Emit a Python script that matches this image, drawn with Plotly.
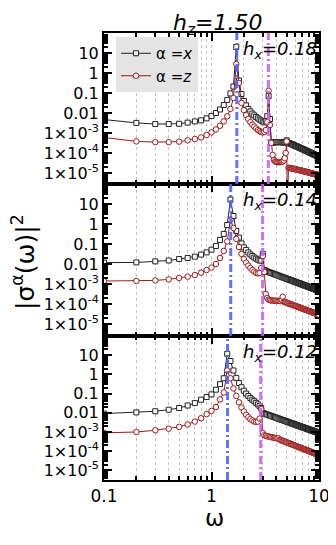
import plotly.graph_objects as go
from plotly.subplots import make_subplots

omega = [0.1, 0.2, 0.3, 0.4, 0.5, 0.6, 0.7, 0.8, 0.9, 1.0,
         1.1, 1.2, 1.3, 1.4, 1.5, 1.6, 1.7, 1.8, 1.9, 2.0,
         2.1, 2.2, 2.3, 2.4, 2.5, 2.6, 2.7, 2.8, 2.9, 3.0,
         3.1, 3.2, 3.3, 3.4, 3.5, 3.6, 3.7, 3.8, 3.9, 4.0,
         4.1, 4.2, 4.3, 4.4, 4.5, 4.6, 4.7, 4.8, 4.9, 5.0,
         5.1, 5.2, 5.3, 5.4, 5.5, 5.6, 5.7, 5.8, 5.9, 6.0,
         6.1, 6.2, 6.3, 6.4, 6.5, 6.6, 6.7, 6.8, 6.9, 7.0,
         7.1, 7.2, 7.3, 7.4, 7.5, 7.6, 7.7, 7.8, 7.9, 8.0,
         8.1, 8.2, 8.3, 8.4, 8.5, 8.6, 8.7, 8.8, 8.9, 9.0,
         9.1, 9.2, 9.3, 9.4, 9.5, 9.6, 9.7, 9.8, 9.9, 10.0]

# h_x = 0.18
sx_018 = [4.7e-3, 3.2e-3, 2.8e-3, 2.8e-3, 2.9e-3, 3.3e-3, 3.8e-3, 4.3e-3, 5.4e-3, 7.1e-3,
          1.0e-2, 1.5e-2, 2.5e-2, 4.5e-2, 9.5e-2, 0.21, 20, 0.42, 0.089, 0.04,
          0.024, 0.016, 0.012, 9.3e-3, 7.6e-3, 6.3e-3, 5.4e-3, 4.7e-3, 4.2e-3, 3.7e-3,
          3.4e-3, 3.8e-3, 7e-3, 0.07, 5e-3, 3.2e-4, 3.3e-4, 3.4e-4, 3.4e-4, 3.5e-4,
          3.5e-4, 3.5e-4, 3.5e-4, 3.5e-4, 3.4e-4, 3.4e-4, 3.4e-4, 3.4e-4, 3.5e-4, 4.3e-4,
          3.3e-4, 3.2e-4, 3.1e-4, 2.95e-4, 2.85e-4, 2.75e-4, 2.6e-4, 2.5e-4, 2.4e-4, 2.3e-4,
          2.22e-4, 2.14e-4, 2.06e-4, 1.98e-4, 1.9e-4, 1.84e-4, 1.77e-4, 1.71e-4, 1.65e-4, 1.59e-4,
          1.54e-4, 1.49e-4, 1.44e-4, 1.39e-4, 1.34e-4, 1.3e-4, 1.26e-4, 1.22e-4, 1.18e-4, 1.14e-4,
          1.11e-4, 1.07e-4, 1.04e-4, 1.01e-4, 9.8e-5, 9.5e-5, 9.2e-5, 9.0e-5, 8.7e-5, 8.5e-5,
          8.2e-5, 8.0e-5, 7.8e-5, 7.6e-5, 7.4e-5, 7.2e-5, 7.0e-5, 6.8e-5, 6.7e-5, 6.5e-5]
sz_018 = [6.0e-4, 3.8e-4, 3.5e-4, 3.5e-4, 3.7e-4, 4.3e-4, 5.0e-4, 6.0e-4, 7.9e-4, 1.07e-3,
          1.5e-3, 2.3e-3, 3.8e-3, 6.8e-3, 0.016, 0.056, 2.8, 0.32, 0.032, 0.014,
          7.9e-3, 5.0e-3, 3.5e-3, 2.6e-3, 2.1e-3, 1.7e-3, 1.4e-3, 1.26e-3, 1.12e-3, 1.07e-3,
          1.12e-3, 1.4e-3, 3.5e-3, 0.13, 2.5e-3, 3.2e-4, 8e-5, 4.5e-5, 3.8e-5, 3.6e-5,
          3.5e-5, 3.5e-5, 3.5e-5, 3.5e-5, 3.6e-5, 3.8e-5, 4.2e-5, 5.5e-5, 1.0e-4, 3.8e-4,
          1e-7, 1.8e-5, 1.8e-5, 1.75e-5, 1.72e-5, 1.68e-5, 1.65e-5, 1.62e-5, 1.58e-5, 1.55e-5,
          1.52e-5, 1.49e-5, 1.46e-5, 1.43e-5, 1.4e-5, 1.37e-5, 1.35e-5, 1.32e-5, 1.3e-5, 1.27e-5,
          1.25e-5, 1.22e-5, 1.2e-5, 1.18e-5, 1.16e-5, 1.14e-5, 1.12e-5, 1.1e-5, 1.08e-5, 1.06e-5,
          1.04e-5, 1.02e-5, 1.0e-5, 9.9e-6, 9.7e-6, 9.5e-6, 9.4e-6, 9.2e-6, 9.1e-6, 8.9e-6,
          8.8e-6, 8.6e-6, 8.5e-6, 8.4e-6, 8.2e-6, 8.1e-6, 8.0e-6, 7.9e-6, 7.8e-6, 7.6e-6]

# h_x = 0.14
sx_014 = [0.0117, 0.012, 0.0135, 0.015, 0.0178, 0.02, 0.0234, 0.0295, 0.038, 0.052,
          0.079, 0.16, 0.32, 0.89, 16.6, 2.5, 0.45, 0.21, 0.107, 0.068,
          0.05, 0.038, 0.03, 0.025, 0.021, 0.0186, 0.0166, 0.015, 0.0148, 0.032,
          5.0e-3, 4.7e-3, 4.2e-3, 4.0e-3, 3.75e-3, 3.55e-3, 3.36e-3, 3.19e-3, 3.02e-3, 2.88e-3,
          2.74e-3, 2.61e-3, 2.49e-3, 2.38e-3, 2.27e-3, 2.17e-3, 2.08e-3, 2.0e-3, 1.92e-3, 1.84e-3,
          1.77e-3, 1.70e-3, 1.64e-3, 1.58e-3, 1.52e-3, 1.47e-3, 1.42e-3, 1.37e-3, 1.32e-3, 1.28e-3,
          1.24e-3, 1.2e-3, 1.16e-3, 1.12e-3, 1.09e-3, 1.06e-3, 1.03e-3, 9.9e-4, 9.7e-4, 9.4e-4,
          9.1e-4, 8.9e-4, 8.6e-4, 8.4e-4, 8.2e-4, 8.0e-4, 7.8e-4, 7.6e-4, 7.4e-4, 7.2e-4,
          7.0e-4, 6.8e-4, 6.7e-4, 6.5e-4, 6.4e-4, 6.2e-4, 6.1e-4, 5.9e-4, 5.8e-4, 5.7e-4,
          5.6e-4, 5.4e-4, 5.3e-4, 5.2e-4, 5.1e-4, 5.0e-4, 4.9e-4, 4.8e-4, 4.7e-4, 4.6e-4]
sz_014 = [1.41e-3, 1.41e-3, 1.51e-3, 1.7e-3, 2.0e-3, 2.34e-3, 2.8e-3, 3.7e-3, 5.0e-3, 6.6e-3,
          0.01, 0.02, 0.045, 0.135, 1.6, 0.63, 0.18, 0.071, 0.032, 0.018,
          0.0117, 8.3e-3, 6.3e-3, 5.0e-3, 4.2e-3, 3.6e-3, 3.4e-3, 3.5e-3, 6.3e-3, 0.025,
          4.0e-3, 3.2e-4, 2.0e-4, 1.66e-4, 1.55e-4, 1.5e-4, 1.48e-4, 1.46e-4, 1.45e-4, 1.44e-4,
          1.43e-4, 1.42e-4, 1.41e-4, 1.4e-4, 1.6e-4, 2.3e-4, 1.31e-4, 1.26e-4, 1.21e-4, 1.16e-4,
          1.11e-4, 1.07e-4, 1.03e-4, 9.9e-5, 9.6e-5, 9.3e-5, 8.9e-5, 8.6e-5, 8.3e-5, 8.1e-5,
          7.8e-5, 7.5e-5, 7.3e-5, 7.1e-5, 6.9e-5, 6.7e-5, 6.5e-5, 6.3e-5, 6.1e-5, 5.9e-5,
          5.7e-5, 5.6e-5, 5.5e-5, 5.3e-5, 5.2e-5, 5.0e-5, 4.9e-5, 4.8e-5, 4.6e-5, 4.5e-5,
          4.4e-5, 4.3e-5, 4.2e-5, 4.1e-5, 4.0e-5, 3.9e-5, 3.8e-5, 3.7e-5, 3.66e-5, 3.58e-5,
          3.5e-5, 3.42e-5, 3.35e-5, 3.28e-5, 3.21e-5, 3.15e-5, 3.08e-5, 3.02e-5, 2.96e-5, 2.9e-5]

# h_x = 0.12
sx_012 = [9.1e-3, 0.0105, 0.012, 0.0145, 0.0178, 0.024, 0.032, 0.048, 0.066, 0.091,
          0.16, 0.31, 0.63, 11.7, 5.0, 1.6, 0.66, 0.355, 0.214, 0.141,
          0.1, 0.076, 0.059, 0.048, 0.04, 0.033, 0.0275, 0.0224, 0.0178, 9.8e-3,
          9.2e-3, 8.6e-3, 8.1e-3, 7.6e-3, 7.2e-3, 6.8e-3, 6.4e-3, 6.1e-3, 5.8e-3, 5.5e-3,
          5.2e-3, 5.0e-3, 4.8e-3, 4.5e-3, 4.3e-3, 4.2e-3, 4.0e-3, 3.8e-3, 3.7e-3, 3.5e-3,
          3.4e-3, 3.3e-3, 3.1e-3, 3.0e-3, 2.9e-3, 2.8e-3, 2.7e-3, 2.6e-3, 2.5e-3, 2.45e-3,
          2.37e-3, 2.29e-3, 2.22e-3, 2.15e-3, 2.09e-3, 2.02e-3, 1.96e-3, 1.9e-3, 1.85e-3, 1.8e-3,
          1.74e-3, 1.7e-3, 1.65e-3, 1.61e-3, 1.57e-3, 1.52e-3, 1.49e-3, 1.44e-3, 1.41e-3, 1.38e-3,
          1.34e-3, 1.31e-3, 1.28e-3, 1.25e-3, 1.22e-3, 1.19e-3, 1.16e-3, 1.14e-3, 1.11e-3, 1.09e-3,
          1.06e-3, 1.04e-3, 1.02e-3, 1.0e-3, 9.8e-4, 9.5e-4, 9.4e-4, 9.2e-4, 9.0e-4, 8.8e-4]
sz_012 = [9.1e-4, 1.0e-3, 1.23e-3, 1.48e-3, 1.86e-3, 2.45e-3, 3.5e-3, 5.2e-3, 8.5e-3, 0.0126,
          0.02, 0.05, 0.115, 1.6, 0.63, 0.186, 0.076, 0.035, 0.019, 0.0117,
          7.9e-3, 5.9e-3, 4.7e-3, 4.0e-3, 3.5e-3, 3.4e-3, 3.5e-3, 5.0e-3, 0.0155, 8.9e-4,
          6.8e-4, 6.3e-4, 6.0e-4, 5.8e-4, 5.6e-4, 5.4e-4, 5.2e-4, 5.0e-4, 4.9e-4, 4.8e-4,
          4.6e-4, 4.7e-4, 4.0e-4, 3.84e-4, 3.65e-4, 3.48e-4, 3.32e-4, 3.17e-4, 3.02e-4, 2.9e-4,
          2.77e-4, 2.66e-4, 2.55e-4, 2.44e-4, 2.35e-4, 2.26e-4, 2.17e-4, 2.09e-4, 2.01e-4, 1.94e-4,
          1.87e-4, 1.8e-4, 1.74e-4, 1.68e-4, 1.63e-4, 1.57e-4, 1.52e-4, 1.47e-4, 1.43e-4, 1.38e-4,
          1.34e-4, 1.30e-4, 1.26e-4, 1.22e-4, 1.19e-4, 1.15e-4, 1.12e-4, 1.09e-4, 1.06e-4, 1.03e-4,
          1.0e-4, 9.7e-5, 9.5e-5, 9.2e-5, 9.0e-5, 8.8e-5, 8.6e-5, 8.3e-5, 8.1e-5, 7.9e-5,
          7.8e-5, 7.6e-5, 7.4e-5, 7.2e-5, 7.0e-5, 6.9e-5, 6.7e-5, 6.6e-5, 6.4e-5, 6.3e-5]

hx_labels = ["0.18", "0.14", "0.12"]
sx_panels = [sx_018, sx_014, sx_012]
sz_panels = [sz_018, sz_014, sz_012]
peak_low = [1.72, 1.51, 1.41]
peak_high = [3.38, 2.99, 2.87]

y_tickvals = [1e-5, 1e-4, 1e-3, 1e-2, 1e-1, 1, 10]
y_ticktext = ["1×10<sup>-5</sup>", "1×10<sup>-4</sup>", "1×10<sup>-3</sup>",
              "0.01", "0.1", "1", "10"]
x_tickvals = [0.1, 1, 10]
x_ticktext = ["0.1", "1", "10"]
x_minor = [0.2, 0.3, 0.4, 0.5, 0.6, 0.7, 0.8, 0.9,
           2, 3, 4, 5, 6, 7, 8, 9]
y_minor = [m * 10.0 ** k for k in range(-6, 2) for m in range(2, 10)]

FONT = "DejaVu Sans"
BLACK = "#222222"
RED = "#9e1a1a"
BLUE = "rgba(80,100,245,0.9)"
MAGENTA = "rgba(200,100,240,0.9)"

# the page body has a default 8px margin: target positions are shifted by it
OFF = 8
W, H = 336, 545
ML, MT = 104 - OFF, 33 - OFF
PLOT_R, PLOT_B = 319 - OFF, 480 - OFF
MR, MB = W - PLOT_R, H - PLOT_B
PW, PH = PLOT_R - ML, PLOT_B - MT
panel_px = [(33 - OFF, 184 - OFF), (184 - OFF, 336 - OFF), (336 - OFF, 480 - OFF)]
y_ranges = [[-5.55, 2], [-5.6, 2], [-5.5, 2]]


def px_x(px):
    return (px - OFF - ML) / PW


def px_y(py):
    return 1 - (py - OFF - MT) / PH


fig = make_subplots(rows=3, cols=1, shared_xaxes=False, vertical_spacing=0)

for i in range(3):
    r = i + 1
    fig.add_trace(go.Scatter(
        x=omega, y=sx_panels[i], mode="lines+markers", name="α =<i>x</i>",
        showlegend=(i == 0),
        line=dict(color=BLACK, width=1),
        marker=dict(symbol="square", size=5, color="white",
                    line=dict(color=BLACK, width=1))), row=r, col=1)
    fig.add_trace(go.Scatter(
        x=omega, y=sz_panels[i], mode="lines+markers", name="α =<i>z</i>",
        showlegend=(i == 0),
        line=dict(color=RED, width=1),
        marker=dict(symbol="circle", size=5.5, color="white",
                    line=dict(color=RED, width=1))), row=r, col=1)

    top, bot = panel_px[i]
    d0 = 1 - (bot - MT) / PH
    d1 = 1 - (top - MT) / PH
    axis_common = dict(showline=True, linecolor="black", linewidth=2,
                       mirror="allticks", ticks="inside", tickcolor="black",
                       zeroline=False)
    fig.update_xaxes(type="log", range=[-1, 1], tickvals=x_tickvals, ticktext=x_ticktext,
                     ticklen=8, tickwidth=1.5,
                     showticklabels=(i == 2),
                     tickfont=dict(family=FONT, size=17, color="black"),
                     showgrid=True, gridcolor="#c4c4c4", griddash="dot", gridwidth=1,
                     minor=dict(tickvals=x_minor, ticks="inside", ticklen=4,
                                tickcolor="black", showgrid=True,
                                gridcolor="#c4c4c4", griddash="dot", gridwidth=1),
                     row=r, col=1, **axis_common)
    fig.update_yaxes(type="log", range=y_ranges[i], tickvals=y_tickvals,
                     ticktext=y_ticktext, ticklen=8, tickwidth=1.5,
                     tickfont=dict(family=FONT, size=16, color="black"),
                     showgrid=False, domain=[d0, d1],
                     minor=dict(tickvals=y_minor, ticks="inside", ticklen=4,
                                tickcolor="black", showgrid=False),
                     row=r, col=1, **axis_common)

    xref = "x" if r == 1 else f"x{r}"
    yref = "y" if r == 1 else f"y{r}"
    for xv, col in ((peak_low[i], BLUE), (peak_high[i], MAGENTA)):
        fig.add_shape(type="line", xref=xref, yref=f"{yref} domain",
                      x0=xv, x1=xv, y0=0, y1=1, layer="above",
                      line=dict(color=col, width=3, dash="8px,3px,2px,3px"))

    fig.add_annotation(xref="paper", yref="paper", x=1.0, y=d1 - 3 / PH,
                       xanchor="right", yanchor="top", showarrow=False,
                       text=f"<i>h<sub>x</sub>=" + hx_labels[i] + "</i>",
                       font=dict(family=FONT, size=18, color="black"))

# title: box top pinned to the figure's top edge so nothing is clipped
fig.add_annotation(xref="paper", yref="paper", x=px_x(217), y=1 + MT / PH,
                   xanchor="center", yanchor="top",
                   showarrow=False, text="<i>h<sub>z</sub>=1.50</i>",
                   font=dict(family=FONT, size=22, color="black"))
fig.add_annotation(xref="paper", yref="paper", x=px_x(24), y=px_y(262),
                   xanchor="center", yanchor="middle",
                   showarrow=False, textangle=-90,
                   text="|σ<sup>α</sup>(ω)|<sup>2</sup>",
                   font=dict(family=FONT, size=25, color="black"))
fig.add_annotation(xref="paper", yref="paper", x=px_x(214), y=px_y(518),
                   xanchor="center", yanchor="middle",
                   showarrow=False, text="ω",
                   font=dict(family=FONT, size=23, color="black"))

fig.update_layout(
    width=W, height=H,
    margin=dict(l=ML, r=MR, t=MT, b=MB),
    paper_bgcolor="white", plot_bgcolor="white",
    font=dict(family=FONT, color="black"),
    showlegend=True,
    legend=dict(x=px_x(116), y=px_y(37),
                xanchor="left", yanchor="top", bgcolor="#e4e4e4",
                borderwidth=0, font=dict(family=FONT, size=15, color="black"),
                itemwidth=30, tracegroupgap=0),
)

fig.write_html("out.html")
